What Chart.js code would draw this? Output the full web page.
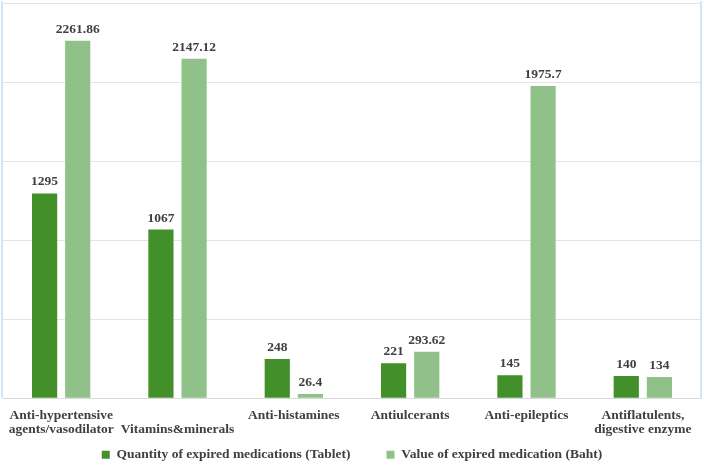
<!DOCTYPE html>
<html>
<head>
<meta charset="utf-8">
<script src="https://cdn.jsdelivr.net/npm/chart.js@4.4.0/dist/chart.umd.min.js"></script>
<style>
html,body{margin:0;padding:0;background:#fff;}
#wrap{width:704px;height:465px;position:relative;}
</style>
</head>
<body>
<div id="wrap"><canvas id="c" width="704" height="465"></canvas></div>
<script>
const categories = [
  ["Anti-hypertensive", "agents/vasodilator"],
  ["", "Vitamins&minerals"],
  "Anti-histamines",
  "Antiulcerants",
  "Anti-epileptics",
  ["Antiflatulents,", "digestive enzyme"]
];
const quantityTablets = [1295, 1067, 248, 221, 145, 140];
const valueBaht = [2261.86, 2147.12, 26.4, 293.62, 1975.7, 134];
const valueLabels = ["2261.86", "2147.12", "26.4", "293.62", "1975.7", "134"];
const quantityLabels = ["1295", "1067", "248", "221", "145", "140"];
const seriesNames = ["Quantity of expired medications (Tablet)", "Value of expired medication (Baht)"];

const FAMILY = "'Times New Roman', Times, 'Liberation Serif', serif";
const labelFont = "bold 13.5px " + FAMILY;

const dataLabelPlugin = {
  id: 'dataLabels',
  afterDatasetsDraw(chart) {
    const ctx = chart.ctx;
    ctx.save();
    ctx.font = labelFont;
    ctx.fillStyle = '#404040';
    ctx.textAlign = 'center';
    ctx.textBaseline = 'alphabetic';
    const texts = [quantityLabels, valueLabels];
    chart.data.datasets.forEach((ds, di) => {
      const meta = chart.getDatasetMeta(di);
      meta.data.forEach((bar, i) => {
        ctx.fillText(texts[di][i], bar.x, bar.y - 8);
      });
    });
    ctx.restore();
  }
};

const framePlugin = {
  id: 'frame',
  afterLayout(chart) {
    // let the category labels extend below the compact axis box (no clipping)
    const x = chart.scales.x;
    x.bottom = chart.height;
  },
  beforeDraw(chart) {
    const ctx = chart.ctx;
    ctx.save();
    ctx.fillStyle = '#fff';
    ctx.fillRect(0, 0, chart.width, chart.height);
    ctx.restore();
  },
  afterDraw(chart) {
    const a = chart.chartArea;
    const ctx = chart.ctx;
    ctx.save();
    ctx.strokeStyle = '#cfe6f7';
    ctx.lineWidth = 2;
    ctx.beginPath();
    ctx.moveTo(2, 1); ctx.lineTo(2, a.bottom);
    ctx.moveTo(701, 1); ctx.lineTo(701, a.bottom);
    ctx.stroke();
    ctx.restore();
  }
};

new Chart(document.getElementById('c'), {
  type: 'bar',
  data: {
    labels: categories,
    datasets: [
      {
        label: seriesNames[0],
        data: quantityTablets,
        backgroundColor: '#43902b',
        categoryPercentage: 0.57,
        barPercentage: 0.76
      },
      {
        label: seriesNames[1],
        data: valueBaht,
        backgroundColor: '#8fc189',
        categoryPercentage: 0.57,
        barPercentage: 0.76
      }
    ]
  },
  options: {
    responsive: false,
    animation: false,
    devicePixelRatio: 1,
    layout: { padding: { left: 3, right: 3, top: 3, bottom: -6.5 } },
    scales: {
      x: {
        grid: { display: false },
        border: { color: '#d9d9d9' },
        ticks: {
          color: '#404040',
          font: { family: FAMILY, size: 13.5, weight: 'bold', lineHeight: 1.07 },
          maxRotation: 0,
          autoSkip: false,
          padding: 2
        },
        afterFit(scale) { scale.height = 13.8; }
      },
      y: {
        min: 0,
        max: 2500,
        ticks: { display: false, stepSize: 500 },
        grid: { color: '#e4e4e4', drawTicks: false },
        border: { display: false }
      }
    },
    plugins: {
      legend: {
        position: 'bottom',
        labels: {
          color: '#404040',
          font: { family: FAMILY, size: 13.5, weight: 'bold' },
          boxWidth: 8,
          boxHeight: 8,
          padding: 36
        }
      },
      tooltip: { enabled: false }
    }
  },
  plugins: [framePlugin, dataLabelPlugin]
});
</script>
</body>
</html>
